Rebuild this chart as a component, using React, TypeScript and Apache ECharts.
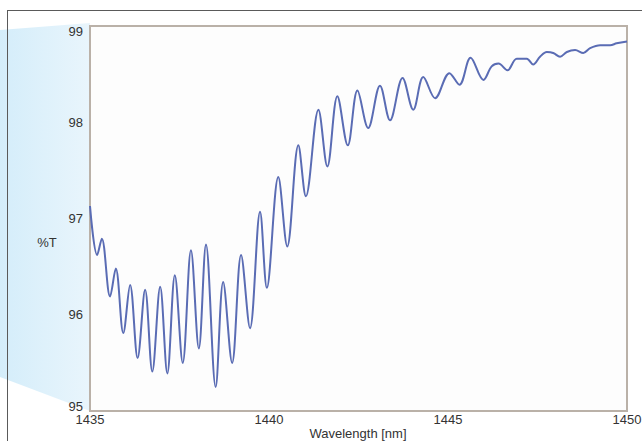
import React, { useEffect, useRef } from "react";
import * as echarts from "echarts";

const wavelength = [
  1435.0, 1435.2, 1435.33, 1435.56, 1435.72, 1435.93, 1436.12, 1436.33, 1436.54, 1436.74,
  1436.96, 1437.16, 1437.37, 1437.59, 1437.82, 1438.04, 1438.24, 1438.51, 1438.72, 1438.97,
  1439.22, 1439.47, 1439.75, 1439.94, 1440.26, 1440.51, 1440.82, 1441.03, 1441.38, 1441.63,
  1441.91, 1442.2, 1442.47, 1442.77, 1443.1, 1443.38, 1443.73, 1444.03, 1444.31, 1444.64,
  1445.04, 1445.32, 1445.63, 1445.99, 1446.22, 1446.41, 1446.66, 1446.92, 1447.2, 1447.38,
  1447.57, 1447.76, 1447.94, 1448.13, 1448.32, 1448.55, 1448.78, 1448.97, 1449.25, 1449.53,
  1449.71, 1450.0,
];

const transmittance = [
  97.13, 96.62, 96.79, 96.19, 96.48, 95.81, 96.31, 95.55, 96.26, 95.41,
  96.29, 95.39, 96.41, 95.5, 96.67, 95.65, 96.73, 95.25, 96.34, 95.5,
  96.62, 95.86, 97.07, 96.28, 97.43, 96.71, 97.76, 97.23, 98.13, 97.54,
  98.27, 97.76, 98.33, 97.94, 98.38, 98.02, 98.46, 98.13, 98.47, 98.25,
  98.51, 98.39, 98.67, 98.44, 98.58, 98.61, 98.54, 98.66, 98.66, 98.6,
  98.68, 98.73, 98.72, 98.68, 98.73, 98.75, 98.72, 98.77, 98.8, 98.8,
  98.82, 98.84,
];

const xTitle = "Wavelength [nm]";
const yTitle = "%T";
const yMin = 95;
const yMax = 99;

export default function App() {
  const ref = useRef<HTMLDivElement>(null);

  useEffect(() => {
    if (!ref.current) return;
    const chart = echarts.init(ref.current, undefined, { renderer: "svg" });
    const font = "'Liberation Sans', Arial, sans-serif";
    const data = wavelength.map((w, i) => [w, transmittance[i]]);

    chart.setOption({
      animation: false,
      backgroundColor: "#ffffff",
      textStyle: { fontFamily: font },
      grid: {
        left: 90,
        right: 15,
        top: 26,
        bottom: 30,
        show: true,
        containLabel: false,
        outerBoundsMode: "none",
        backgroundColor: "#fdfdfd",
        borderColor: "#bab1a8",
        borderWidth: 2,
        z: 3,
      },
      graphic: [
        {
          type: "polygon",
          z: 0,
          silent: true,
          shape: { points: [[0, 30], [90, 23], [90, 411], [0, 377]] },
          style: {
            fill: new echarts.graphic.LinearGradient(0, 0, 1, 0, [
              { offset: 0, color: "#d4edfa" },
              { offset: 1, color: "#e9f5fc" },
            ]),
          },
        },
        {
          type: "line",
          z: 1,
          silent: true,
          shape: { x1: 7, y1: 10.5, x2: 642, y2: 10.5 },
          style: { stroke: "#5a5a5a", lineWidth: 1 },
        },
        {
          type: "line",
          z: 1,
          silent: true,
          shape: { x1: 7.5, y1: 10, x2: 7.5, y2: 441 },
          style: { stroke: "#5a5a5a", lineWidth: 1 },
        },
        {
          type: "text",
          z: 2,
          silent: true,
          x: 47,
          y: 242,
          style: {
            text: yTitle,
            fill: "#333333",
            font: `13px ${font}`,
            align: "center",
            verticalAlign: "middle",
          },
        },
        {
          type: "text",
          z: 2,
          silent: true,
          x: 358,
          y: 433,
          style: {
            text: xTitle,
            fill: "#333333",
            font: `13px ${font}`,
            align: "center",
            verticalAlign: "middle",
          },
        },
      ],
      xAxis: {
        type: "value",
        min: 1435,
        max: 1450,
        interval: 5,
        axisLine: { show: false },
        axisTick: { show: true, inside: true, length: 5, lineStyle: { color: "#dddddd" } },
        minorTick: { show: true, splitNumber: 2, length: 4, lineStyle: { color: "#e4e4e4" } },
        splitLine: { show: false },
        axisLabel: {
          color: "#333333",
          fontSize: 13,
          margin: 2,
          fontFamily: font,
          formatter: (v: number) => String(v),
        },
      },
      yAxis: {
        type: "value",
        min: yMin,
        max: yMax,
        interval: 1,
        axisLine: { show: false },
        axisTick: { show: true, inside: true, length: 5, lineStyle: { color: "#dddddd" } },
        minorTick: { show: true, splitNumber: 2, length: 4, lineStyle: { color: "#e4e4e4" } },
        splitLine: { show: false },
        axisLabel: {
          color: "#333333",
          fontSize: 13,
          margin: 7,
          fontFamily: font,
          formatter: (v: number) =>
            v === yMin ? `{lo|${v}}` : v === yMax ? `{hi|${v}}` : String(v),
          rich: {
            lo: { fontSize: 13, color: "#333333", fontFamily: font, padding: [0, 0, 10, 0] },
            hi: { fontSize: 13, color: "#333333", fontFamily: font, padding: [10, 0, 0, 0] },
          },
        },
      },
      series: [
        {
          type: "line",
          data,
          smooth: 0.35,
          showSymbol: false,
          symbol: "none",
          clip: true,
          z: 4,
          lineStyle: { color: "#5a6cb4", width: 2 },
        },
      ],
    });

    return () => chart.dispose();
  }, []);

  return (
    <div
      ref={ref}
      style={{ position: "fixed", left: 0, top: 0, width: 642, height: 441 }}
    />
  );
}
